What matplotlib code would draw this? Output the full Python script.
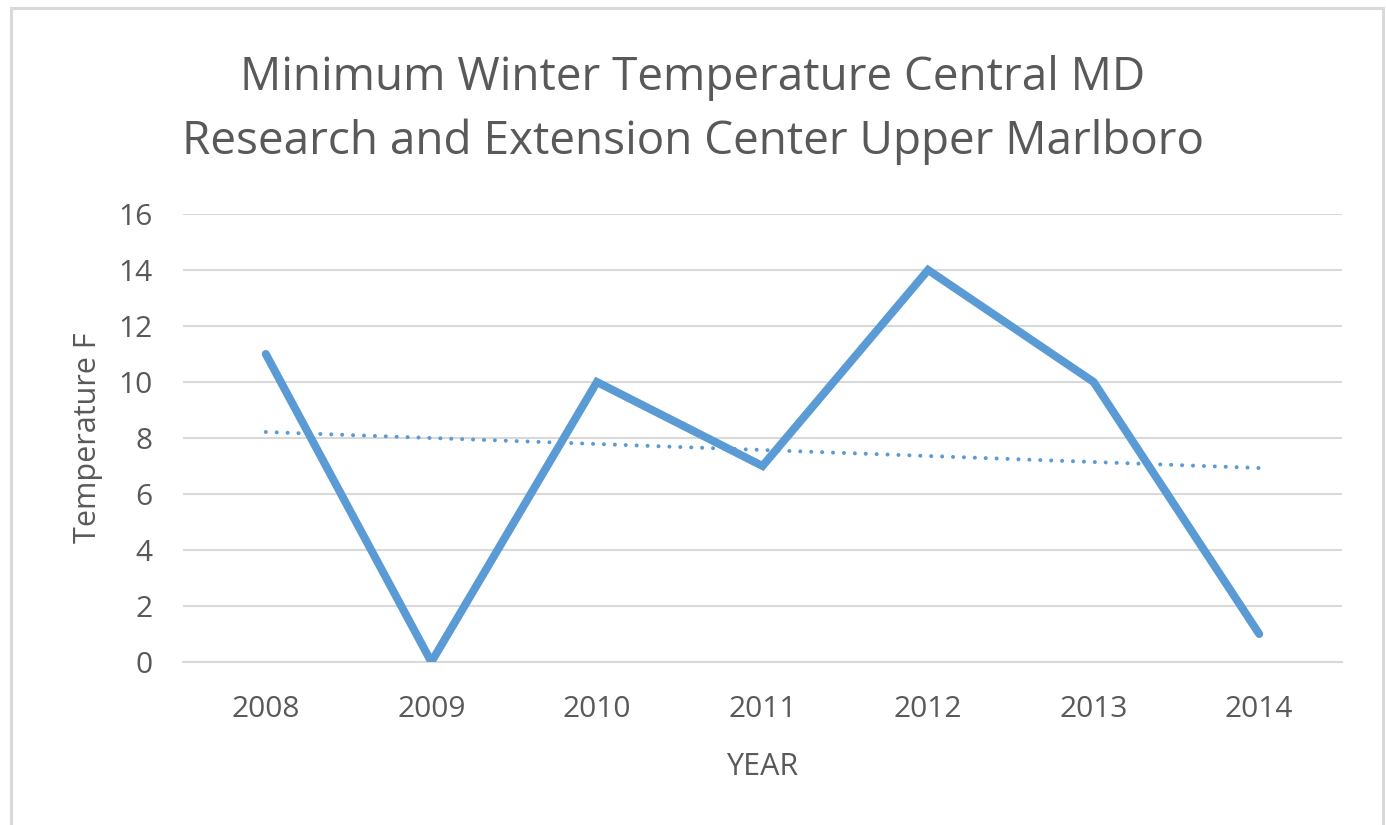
import numpy as np
import matplotlib
matplotlib.use("Agg")
from matplotlib import pyplot as plt
from matplotlib.patches import Rectangle

years = ["2008", "2009", "2010", "2011", "2012", "2013", "2014"]
min_temp = [11, 0, 10, 7, 14, 10, 1]
y_ticks = [0, 2, 4, 6, 8, 10, 12, 14, 16]

plt.rcParams['font.family'] = ['Open Sans', 'DejaVu Sans']
txt = '#595959'
blue = '#5b9bd5'
grid = '#d9d9d9'

fig = plt.figure(figsize=(13.86, 8.25), dpi=100)
ax = fig.add_axes([183/1386, 1 - 662/825, (1342 - 183)/1386, (662 - 214)/825])

x = np.arange(len(years))
ax.plot(x, min_temp, color=blue, lw=5.8, solid_capstyle='round', solid_joinstyle='miter', zorder=3)

# linear trendline
k, b = np.polyfit(x, min_temp, 1)
ax.plot(x, k * x + b, color=blue, lw=2.9, linestyle=(0, (0.01, 2.7)), dash_capstyle='round', zorder=2)

ax.set_xlim(-0.5, len(years) - 0.5)
ax.set_ylim(0, 16)
ax.set_yticks(y_ticks)
ax.set_xticks(x)
ax.set_xticklabels(years)
ax.yaxis.grid(True, color=grid, lw=1.5)
ax.set_axisbelow(True)
for s in ['top', 'right', 'left']:
    ax.spines[s].set_visible(False)
ax.spines['bottom'].set_color(grid)
ax.spines['bottom'].set_linewidth(1.5)
ax.tick_params(length=0, labelsize=21.5, labelcolor=txt)
ax.tick_params(axis='x', pad=24)
ax.tick_params(axis='y', pad=22)

ax.set_xlabel("YEAR", fontsize=22, color=txt, labelpad=20)
ax.set_ylabel("Temperature F", fontsize=22, color=txt, labelpad=11)

fig.text(0.5, 1 - 110/825,
         "Minimum Winter Temperature Central MD\nResearch and Extension Center Upper Marlboro",
         ha='center', va='center', fontsize=33, color=txt, linespacing=1.5)

fig.patches.append(Rectangle((11/1386, -0.02), (1383 - 11)/1386, 1.02 - 8/825,
                             transform=fig.transFigure, fill=False,
                             edgecolor=grid, lw=2.2))

fig.savefig("out.png", dpi=100)
